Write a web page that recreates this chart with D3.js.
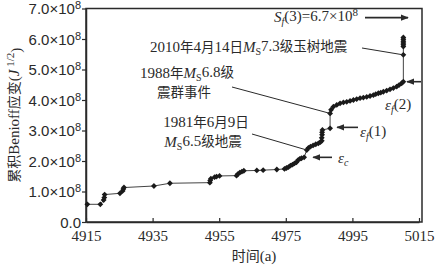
<!DOCTYPE html>
<html>
<head>
<meta charset="utf-8">
<script src="https://cdn.jsdelivr.net/npm/d3@7"></script>
<style>
  body { margin: 0; background: #fff; }
  svg { display: block; }
</style>
</head>
<body>
<div id="chart"></div>
<script>
// years (a) and cumulative Benioff strain (x10^8 J^1/2)
const years = [4915.4, 4919.3, 4920.3, 4920.5, 4920.6, 4925.2, 4926.0, 4926.2, 4926.4, 4935.4,
    4940.2, 4952.2, 4952.3, 4952.5, 4953.6, 4954.2, 4955.1, 4960.2, 4960.6, 4961.2,
    4961.8, 4962.4, 4966.3, 4968.2, 4972.3, 4974.6, 4975.2, 4975.8, 4976.4, 4977.0,
    4977.6, 4978.2, 4978.7, 4979.2, 4979.7, 4980.5, 4981.3, 4981.8, 4982.4, 4983.2,
    4984.0, 4984.8, 4985.4, 4985.8, 4985.8, 4985.9, 4985.9, 4986.0, 4988.3, 4988.3,
    4988.6, 4989.3, 4990.3, 4991.3, 4992.3, 4993.3, 4994.3, 4995.3, 4996.3, 4997.3,
    4998.3, 4999.3, 5000.3, 5001.3, 5002.0, 5002.8, 5003.5, 5004.3, 5005.3, 5006.3,
    5007.3, 5008.3, 5009.0, 5009.8, 5010.3, 5010.3, 5010.3, 5010.3, 5010.3, 5010.3,
    5010.3, 5010.3];
const strain = [0.58, 0.58, 0.72, 0.80, 0.90, 0.94, 1.02, 1.08, 1.13, 1.18,
    1.27, 1.29, 1.36, 1.42, 1.47, 1.49, 1.51, 1.52, 1.57, 1.62,
    1.65, 1.68, 1.69, 1.70, 1.72, 1.74, 1.77, 1.80, 1.85, 1.88,
    1.92, 1.96, 2.03, 2.07, 2.09, 2.12, 2.36, 2.43, 2.47, 2.51,
    2.55, 2.58, 2.62, 2.66, 2.76, 2.86, 2.94, 3.02, 3.07, 3.56,
    3.68, 3.78, 3.84, 3.89, 3.92, 3.94, 3.97, 4.00, 4.03, 4.06,
    4.08, 4.10, 4.13, 4.16, 4.19, 4.22, 4.24, 4.27, 4.31, 4.35,
    4.39, 4.44, 4.49, 4.55, 4.60, 5.48, 5.75, 5.81, 5.87, 5.93,
    5.99, 6.05];

const x_ticks = [4915, 4935, 4955, 4975, 4995, 5015];
const y_ticks = [0, 1, 2, 3, 4, 5, 6, 7];

// events marked on the curve: [year, strain]
const eq_1981 = [4981.3, 2.36];
const eq_1988 = [4988.3, 3.56];
const eq_2010 = [5010.3, 5.48];
const eps_c = [4980.5, 2.12];
const eps_f1 = [4988.3, 3.07];
const eps_f2 = [5010.3, 4.60];
const sf3 = 6.7;

(function() {
    const width = 436, height = 265;
    const serif = '"Liberation Serif", "Times New Roman", "Noto Sans CJK SC", serif';
    const ink = '#2a2a2a';

    let x = d3.scaleLinear().domain([4915, 5015]).range([86, 419]);
    let y = d3.scaleLinear().domain([0, 7]).range([222, 8.5]);

    let svg = d3.select('#chart').append('svg')
        .attr('width', width)
        .attr('height', height)
        .attr('font-family', serif);

    svg.append('defs').append('marker')
        .attr('id', 'head')
        .attr('viewBox', '0 0 10 10')
        .attr('refX', 9).attr('refY', 5)
        .attr('markerWidth', 5).attr('markerHeight', 5)
        .attr('markerUnits', 'strokeWidth')
        .attr('orient', 'auto')
        .append('path')
        .attr('d', 'M0,1 L10,5 L0,9 Z')
        .attr('fill', ink);

    // frame
    svg.append('rect')
        .attr('x', x(4915)).attr('y', y(7))
        .attr('width', 422 - x(4915)).attr('height', y(0) - y(7))
        .attr('fill', 'none')
        .attr('stroke', ink)
        .attr('stroke-width', 1.5);

    // axes
    let xa = svg.append('g')
        .attr('transform', 'translate(0,' + y(0) + ')')
        .call(d3.axisBottom(x).tickValues(x_ticks).tickSizeInner(-4).tickSizeOuter(0).tickFormat(d3.format('d')));
    xa.select('.domain').attr('stroke', ink).attr('stroke-width', 1.5);
    xa.selectAll('.tick line').attr('stroke', ink).attr('stroke-width', 1.2);
    xa.selectAll('.tick text')
        .attr('fill', ink)
        .attr('font-size', 15)
        .attr('font-family', serif)
        .attr('y', 6)
        .attr('dy', '0.85em');

    let ya = svg.append('g')
        .attr('transform', 'translate(' + x(4915) + ',0)')
        .call(d3.axisLeft(y).tickValues(y_ticks).tickSize(4).tickSizeOuter(0).tickFormat(''));
    ya.select('.domain').attr('stroke', ink).attr('stroke-width', 1.5);
    ya.selectAll('.tick line').attr('stroke', ink).attr('stroke-width', 1.2);
    ya.selectAll('.tick').each(function(d) {
        let t = d3.select(this).append('text')
            .attr('x', -5)
            .attr('dy', '0.35em')
            .attr('text-anchor', 'end')
            .attr('fill', ink)
            .attr('font-size', 15);
        if (d === 0) {
            t.text('0.0');
        } else {
            t.append('tspan').text(d.toFixed(1) + '×10');
            t.append('tspan').attr('dy', '-0.45em').attr('font-size', 11).text('8');
        }
    });

    // axis titles
    let xl = svg.append('text')
        .attr('x', (x(4915) + 422) / 2)
        .attr('y', 261)
        .attr('text-anchor', 'middle')
        .attr('fill', ink)
        .attr('font-size', 15);
    xl.append('tspan').attr('font-family', '"Noto Sans CJK SC", sans-serif').attr('font-size', 14).text('时间');
    xl.append('tspan').text('(a)');

    let yl = svg.append('text')
        .attr('transform', 'translate(19,' + ((y(0) + y(7)) / 2) + ') rotate(-90)')
        .attr('text-anchor', 'middle')
        .attr('fill', ink)
        .attr('font-size', 15);
    yl.append('tspan').attr('font-family', '"Noto Sans CJK SC", sans-serif').attr('font-size', 14).text('累积');
    yl.append('tspan').text('Benioff');
    yl.append('tspan').attr('font-family', '"Noto Sans CJK SC", sans-serif').attr('font-size', 14).text('应变');
    yl.append('tspan').text('(');
    yl.append('tspan').attr('font-style', 'italic').text('J');
    yl.append('tspan').attr('dy', '-0.45em').attr('font-size', 11).text(' 1/2');
    yl.append('tspan').attr('dy', '0.45em').text(')');

    // curve
    let pts = years.map((d, i) => ({ x: d, y: strain[i] }));
    let line = d3.line().x((d) => x(d.x)).y((d) => y(d.y));
    svg.append('path').datum(pts)
        .attr('fill', 'none')
        .attr('stroke', '#444')
        .attr('stroke-width', 1)
        .attr('d', line);

    svg.append('g').selectAll('path')
        .data(pts)
        .enter().append('path')
        .attr('transform', (d) => 'translate(' + x(d.x) + ',' + y(d.y) + ') rotate(45)')
        .attr('d', d3.symbol().type(d3.symbolSquare).size(17))
        .attr('fill', '#1a1a1a');

    // leader lines and labels
    let lead = function(x1, y1, p) {
        svg.append('line')
            .attr('x1', x1).attr('y1', y1)
            .attr('x2', x(p[0])).attr('y2', y(p[1]))
            .attr('stroke', ink).attr('stroke-width', 1);
    };
    let cjk = (t, s) => t.append('tspan').attr('font-family', '"Noto Sans CJK SC", sans-serif').attr('font-size', 13.5).text(s);
    let ms = function(t) {
        t.append('tspan').attr('font-style', 'italic').text('M');
        t.append('tspan').attr('font-size', 10).attr('dy', '0.25em').text('S');
        return t.append('tspan').attr('dy', '-0.25em');
    };
    let label = function(px, py, anchor) {
        return svg.append('text')
            .attr('x', px).attr('y', py)
            .attr('text-anchor', anchor)
            .attr('fill', ink)
            .attr('font-size', 15);
    };

    let t = label(150, 52, 'start');
    t.append('tspan').text('2010');
    cjk(t, '年');
    t.append('tspan').text('4');
    cjk(t, '月');
    t.append('tspan').text('14');
    cjk(t, '日');
    ms(t).text('7.3');
    cjk(t, '级玉树地震');
    lead(362, 48, eq_2010);

    t = label(187, 78, 'middle');
    t.append('tspan').text('1988');
    cjk(t, '年');
    ms(t).text('6.8');
    cjk(t, '级');
    t = label(184, 97, 'middle');
    cjk(t, '震群事件');
    lead(232, 87, eq_1988);

    t = label(206, 127, 'middle');
    t.append('tspan').text('1981');
    cjk(t, '年');
    t.append('tspan').text('6');
    cjk(t, '月');
    t.append('tspan').text('9');
    cjk(t, '日');
    t = label(203, 147, 'middle');
    ms(t).text('6.5');
    cjk(t, '级地震');
    lead(252, 134, eq_1981);

    // arrows
    let arrow = function(x1, x2, yy) {
        svg.append('line')
            .attr('x1', x1).attr('y1', yy)
            .attr('x2', x2).attr('y2', yy)
            .attr('stroke', ink).attr('stroke-width', 1.6)
            .attr('marker-end', 'url(#head)');
    };
    arrow(365, 408, y(sf3));
    arrow(421, 407, y(eps_f2[1]));
    arrow(358, x(eps_f1[0]) + 7, y(eps_f1[1]) - 1);
    arrow(332, x(eps_c[0]) + 9, y(eps_c[1]));

    let eps = function(px, py, sub) {
        let e = label(px, py, 'start');
        e.append('tspan').attr('font-style', 'italic').text('ε');
        e.append('tspan').attr('font-style', 'italic').attr('font-size', 10).attr('dy', '0.3em').text(sub);
        return e;
    };
    eps(385, 110, 'f').append('tspan').attr('dy', '-0.3em').text('(2)');
    eps(360, 137, 'f').append('tspan').attr('dy', '-0.3em').text('(1)');
    eps(338, 163, 'c');

    t = label(358, 22, 'end');
    t.append('tspan').attr('font-style', 'italic').text('S');
    t.append('tspan').attr('font-style', 'italic').attr('font-size', 10).attr('dy', '0.3em').text('f');
    t.append('tspan').attr('dy', '-0.3em').text('(3)=6.7×10');
    t.append('tspan').attr('dy', '-0.45em').attr('font-size', 11).text('8');
}());
</script>
</body>
</html>
